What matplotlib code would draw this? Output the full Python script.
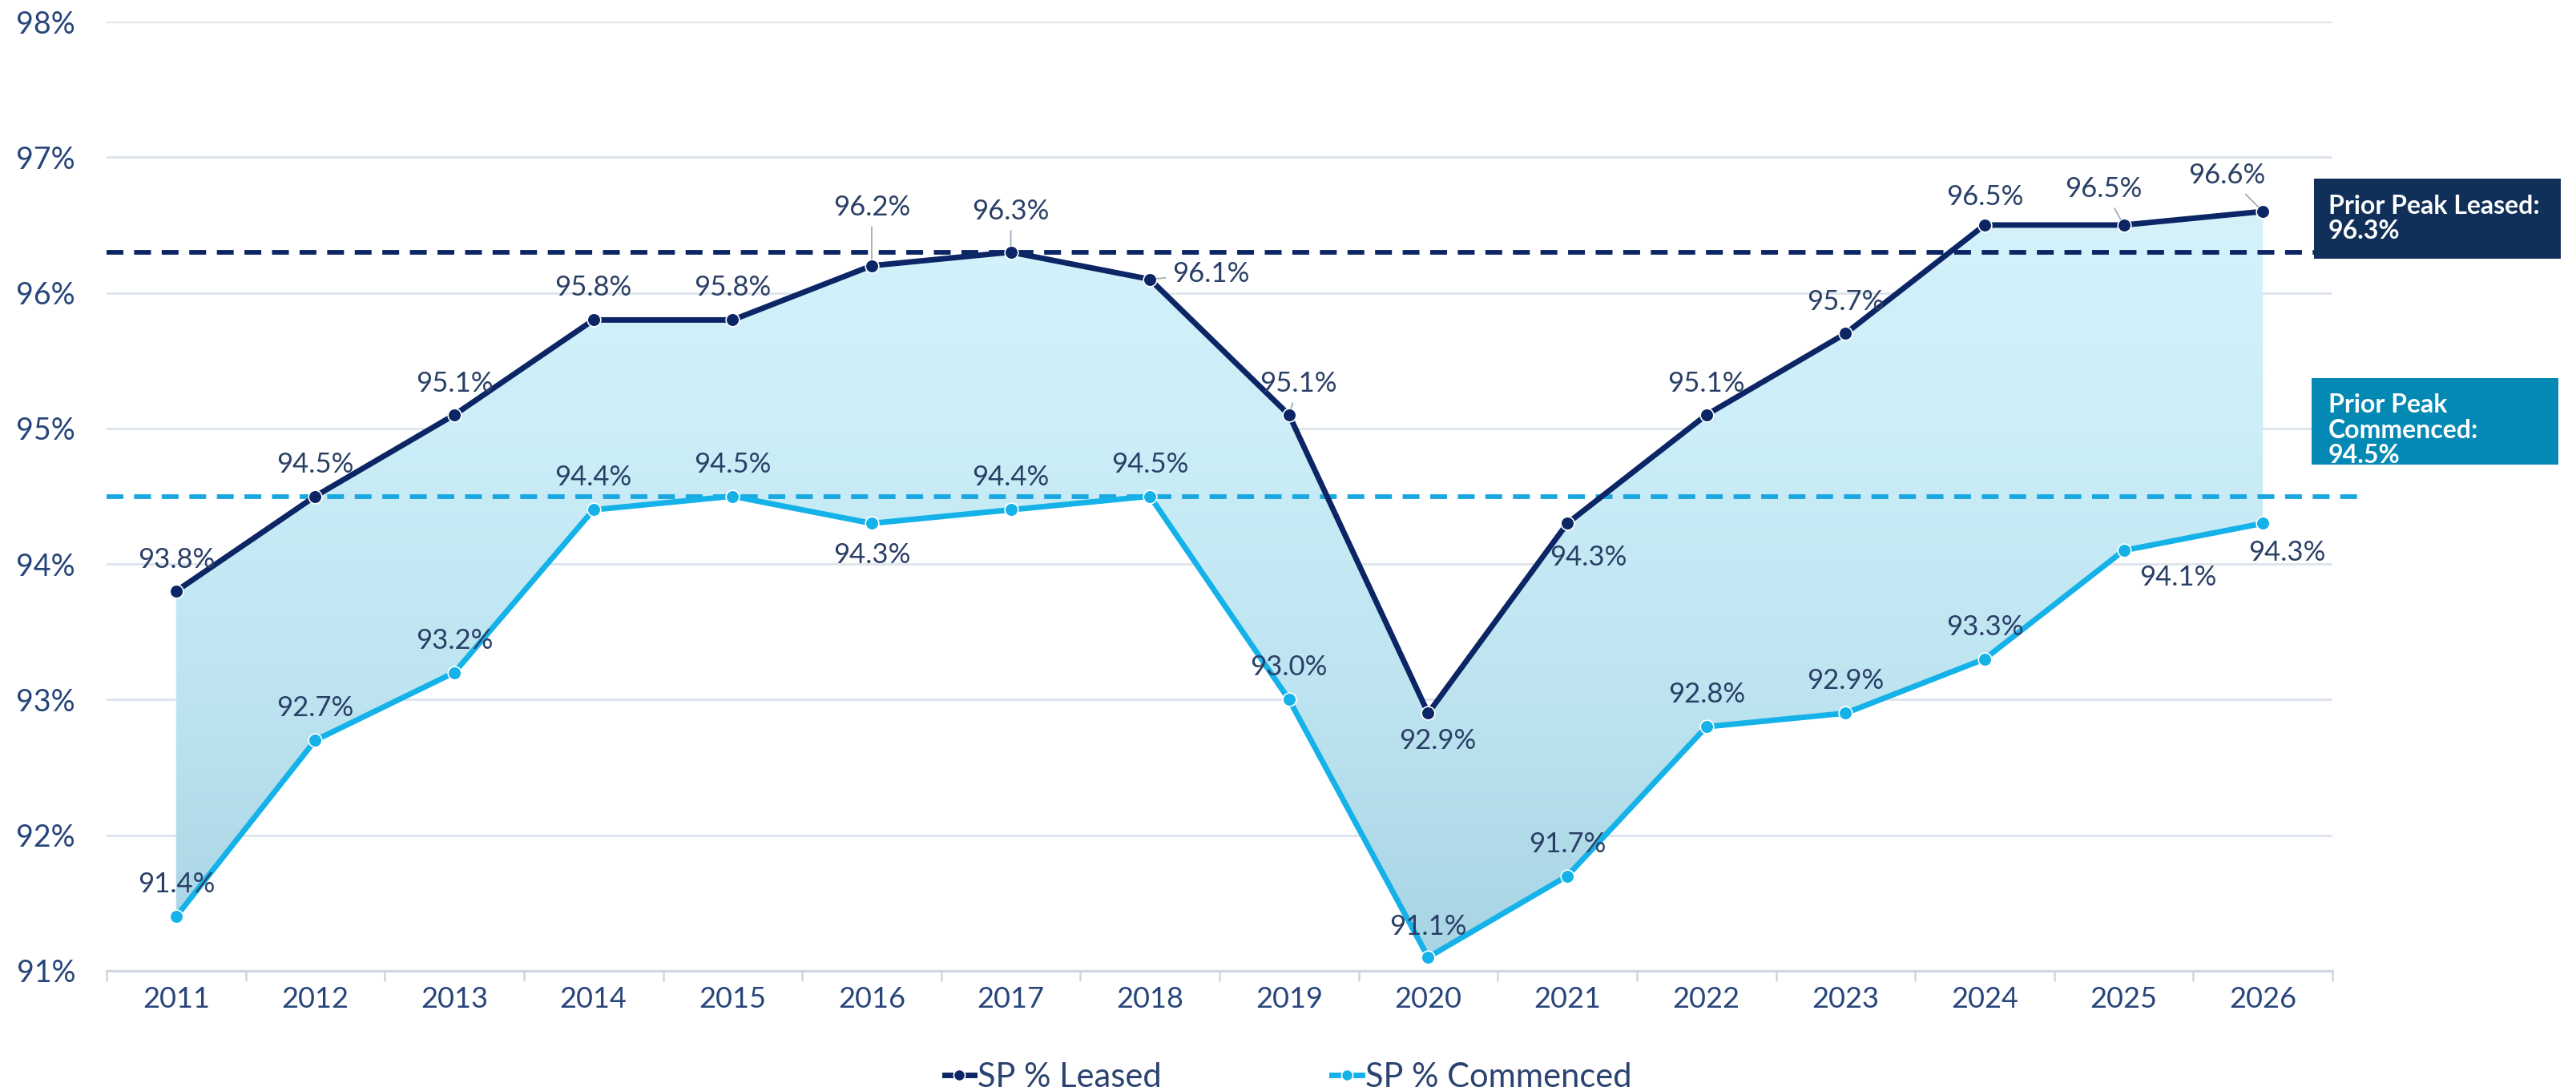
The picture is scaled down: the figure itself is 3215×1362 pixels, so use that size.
import numpy as np
import matplotlib
matplotlib.use("Agg")
import matplotlib.pyplot as plt
from matplotlib.colors import LinearSegmentedColormap
from matplotlib.patches import Rectangle

plt.rcParams['font.family'] = ['Lato', 'DejaVu Sans']

# ---------------- data ----------------
years = ['2011', '2012', '2013', '2014', '2015', '2016', '2017', '2018',
         '2019', '2020', '2021', '2022', '2023', '2024', '2025', '2026']
leased = [93.8, 94.5, 95.1, 95.8, 95.8, 96.2, 96.3, 96.1,
          95.1, 92.9, 94.3, 95.1, 95.7, 96.5, 96.5, 96.6]
commenced = [91.4, 92.7, 93.2, 94.4, 94.5, 94.3, 94.4, 94.5,
             93.0, 91.1, 91.7, 92.8, 92.9, 93.3, 94.1, 94.3]
peak_leased = 96.3
peak_commenced = 94.5
y_ticks = [91, 92, 93, 94, 95, 96, 97, 98]
series_names = ['SP % Leased', 'SP % Commenced']

# ---------------- style / layout ----------------
W, H, DPI = 3215, 1362, 200
PX = 72 / DPI  # points per pixel
NAVY = '#0b2565'
CYAN = '#14b2e8'
DASH_CYAN = '#1aa7df'
TXT = '#2a3f66'
TICK_TXT = '#27457a'
GRID = '#dde3eb'
AXLINE = '#cfd6df'
LEADER = '#9ba7b8'

# label offsets in pixels (dx right, dy down) and leader-line flags
leased_off = [(0, -42), (0, -42), (0, -42), (0, -43), (0, -43), (0, -76), (0, -54), (76, -10),
              (12, -42), (12, 32), (26, 40), (0, -42), (0, -42), (0, -38), (-25, -48), (-45, -48)]
leased_leader = [False, False, False, False, False, True, True, True,
                 True, False, False, False, False, False, True, True]
comm_off = [(0, -43), (0, -43), (0, -43), (0, -43), (0, -43), (0, 37), (0, -43), (0, -43),
            (0, -43), (0, -41), (0, -43), (0, -43), (0, -43), (0, -43), (68, 31), (30, 34)]

fig = plt.figure(figsize=(W / DPI, H / DPI), dpi=DPI)
ax = fig.add_axes([133 / W, 1 - 1212 / H, (2911 - 133) / W, (1212 - 27) / H])

x = np.arange(len(years))

# gradient fill between the two series
poly = ax.fill_between(x, commenced, leased, facecolor='none', edgecolor='none')
cmap = LinearSegmentedColormap.from_list(
    'g', [(0, '#a8d4e4'), (0.35, '#bde4f0'), (0.7, '#cbeef8'), (1, '#d5f2fb')])
grad = np.linspace(0, 1, 256).reshape(-1, 1)
im = ax.imshow(grad, extent=[-0.5, len(years) - 0.5, min(commenced), max(leased)],
               origin='lower', aspect='auto', cmap=cmap, zorder=1, interpolation='bilinear')
im.set_clip_path(poly.get_paths()[0], transform=ax.transData)

# reference dashed lines
ax.hlines(peak_leased, -0.5, 15.72, colors=NAVY, linestyles=(0, (3.6, 2.3)), lw=2.1,
          zorder=3, clip_on=False)
ax.hlines(peak_commenced, -0.5, 15.72, colors=DASH_CYAN, linestyles=(0, (3.6, 2.3)), lw=2.1,
          zorder=3, clip_on=False)

# series
l1, = ax.plot(x, leased, color=NAVY, lw=2.5, marker='o', ms=6, mfc=NAVY,
              mec='white', mew=0.6, zorder=5, label=series_names[0], clip_on=False)
l2, = ax.plot(x, commenced, color=CYAN, lw=2.5, marker='o', ms=6, mfc=CYAN,
              mec='white', mew=0.6, zorder=5, label=series_names[1], clip_on=False)

# data labels
def label_series(vals, offs, leaders):
    for i, v in enumerate(vals):
        dx, dy = offs[i]
        ap = dict(arrowstyle='-', color=LEADER, lw=0.6, shrinkA=1, shrinkB=3) if leaders[i] else None
        ax.annotate(f"{v:.1f}%", xy=(i, v), xytext=(dx * PX, -dy * PX),
                    textcoords='offset points', ha='center', va='center_baseline',
                    fontsize=12.5, color=TXT, arrowprops=ap, zorder=7, annotation_clip=False)

label_series(leased, leased_off, leased_leader)
label_series(commenced, comm_off, [False] * len(commenced))

# axes styling
ax.set_xlim(-0.5, len(years) - 0.5)
ax.set_ylim(y_ticks[0], y_ticks[-1])
ax.set_yticks(y_ticks)
ax.set_yticklabels([f"{t}%" for t in y_ticks])
ax.set_xticks(x)
ax.set_xticklabels(years)
ax.set_xticks(np.arange(-0.5, len(years), 1), minor=True)
ax.tick_params(axis='y', length=0, pad=14, labelsize=13.5, labelcolor=TICK_TXT)
ax.tick_params(axis='x', which='major', length=0, pad=7, labelsize=13, labelcolor=TICK_TXT)
ax.tick_params(axis='x', which='minor', length=4.5, width=0.9, color=AXLINE)
ax.yaxis.grid(True, color=GRID, lw=1.0)
ax.set_axisbelow(True)
for s in ['left', 'right', 'top']:
    ax.spines[s].set_visible(False)
ax.spines['bottom'].set_color(AXLINE)
ax.spines['bottom'].set_linewidth(1.1)

# legend
fig.legend(handles=[l1, l2], loc='center', bbox_to_anchor=(0.5, 1 - 1345 / H), ncol=2,
           frameon=False, fontsize=15, handlelength=0.9, handletextpad=0.1,
           columnspacing=5.1, labelcolor='#2a4370', markerscale=0.85)

# call-out boxes
fig.add_artist(Rectangle((2888 / W, 1 - 323 / H), (3196 - 2888) / W, (323 - 223) / H,
                         transform=fig.transFigure, facecolor='#10305a', edgecolor='none', zorder=10))
fig.text(2906 / W, 1 - 273 / H, f"Prior Peak Leased:\n{peak_leased:.1f}%", ha='left', va='center',
         color='white', fontsize=11.5, fontweight='bold', linespacing=1.12, zorder=11)
fig.add_artist(Rectangle((2885 / W, 1 - 580 / H), (3193 - 2885) / W, (580 - 472) / H,
                         transform=fig.transFigure, facecolor='#0489b5', edgecolor='none', zorder=10))
fig.text(2906 / W, 1 - 537 / H, f"Prior Peak\nCommenced:\n{peak_commenced:.1f}%", ha='left',
         va='center', color='white', fontsize=11.5, fontweight='bold', linespacing=1.12, zorder=11)

fig.savefig('out.png', dpi=DPI)
